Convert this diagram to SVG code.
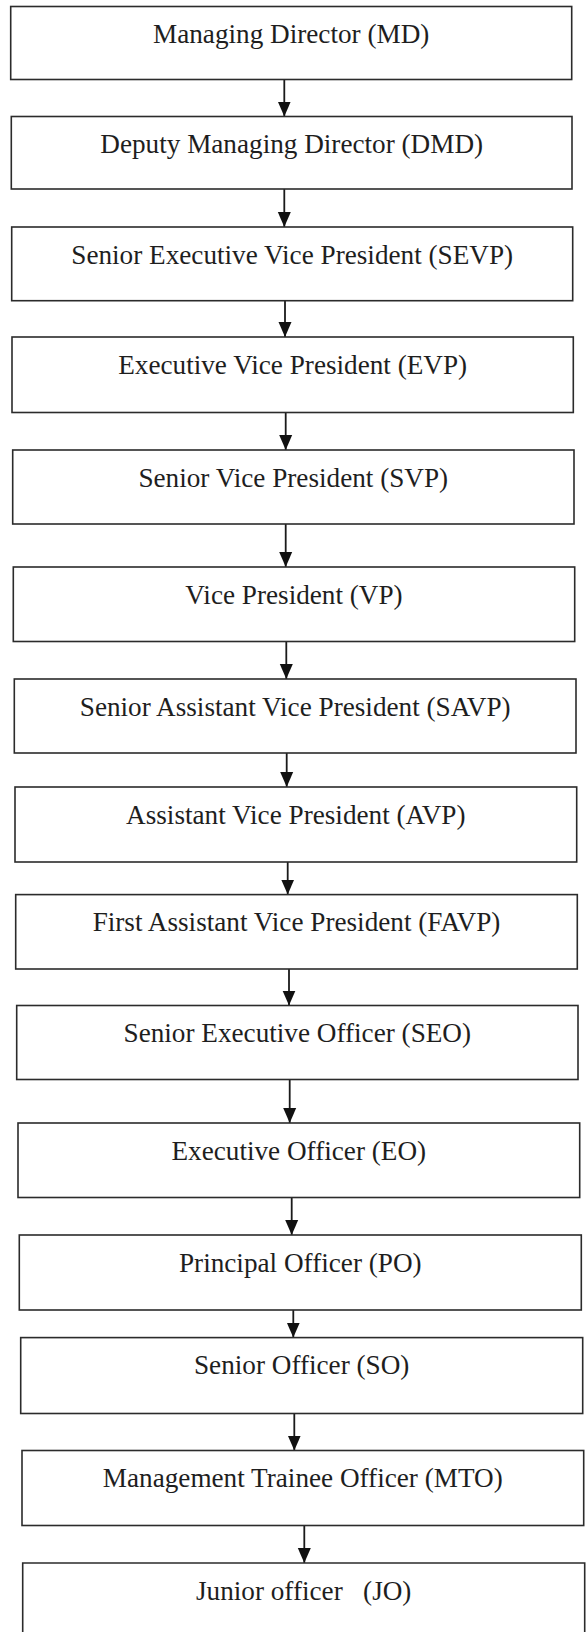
<svg xmlns="http://www.w3.org/2000/svg" width="586" height="1632" viewBox="0 0 586 1632">
<style>
.box{fill:#fff;stroke:#2b2b2b;stroke-width:1.6}
.lbl{font-family:"Liberation Serif","Times New Roman",serif;font-size:27.2px;fill:#1e1e1e;text-anchor:middle;white-space:pre}
.conn{stroke:#1a1a1a;stroke-width:1.8;fill:none}
</style>
<defs>
<marker id="ah" markerUnits="userSpaceOnUse" markerWidth="16" markerHeight="14" refX="15" refY="7" orient="auto" viewBox="0 0 16 14">
<polygon points="0,0.5 15,7 0,13.5" fill="#111"/>
</marker>
</defs>
<rect x="0" y="0" width="586" height="1632" fill="#fff"/>
<g id="connectors">
<line class="conn" x1="284.3" y1="79.5" x2="284.3" y2="116.5" marker-end="url(#ah)"/>
<line class="conn" x1="284.3" y1="189" x2="284.3" y2="227" marker-end="url(#ah)"/>
<line class="conn" x1="285" y1="300.7" x2="285" y2="337" marker-end="url(#ah)"/>
<line class="conn" x1="285.7" y1="412.5" x2="285.7" y2="450" marker-end="url(#ah)"/>
<line class="conn" x1="285.7" y1="524" x2="285.7" y2="567" marker-end="url(#ah)"/>
<line class="conn" x1="286.3" y1="641.5" x2="286.3" y2="679" marker-end="url(#ah)"/>
<line class="conn" x1="286.7" y1="753" x2="286.7" y2="787" marker-end="url(#ah)"/>
<line class="conn" x1="287.7" y1="862" x2="287.7" y2="894.6" marker-end="url(#ah)"/>
<line class="conn" x1="289" y1="969" x2="289" y2="1005.5" marker-end="url(#ah)"/>
<line class="conn" x1="289.7" y1="1079.5" x2="289.7" y2="1123" marker-end="url(#ah)"/>
<line class="conn" x1="291.7" y1="1197.5" x2="291.7" y2="1235" marker-end="url(#ah)"/>
<line class="conn" x1="293.3" y1="1283" x2="293.3" y2="1337.6" marker-end="url(#ah)"/>
<line class="conn" x1="294.3" y1="1413.5" x2="294.3" y2="1450.5" marker-end="url(#ah)"/>
<line class="conn" x1="304.3" y1="1525.5" x2="304.3" y2="1563" marker-end="url(#ah)"/>
</g>
<g id="md"><rect class="box" x="10.7" y="6.5" width="561" height="73"/><text class="lbl" x="291.2" y="43">Managing Director (MD)</text></g>
<g id="dmd"><rect class="box" x="11.3" y="116.5" width="560.7" height="72.5"/><text class="lbl" x="291.7" y="153">Deputy Managing Director (DMD)</text></g>
<g id="sevp"><rect class="box" x="11.7" y="227" width="561" height="73.7"/><text class="lbl" x="292.2" y="263.5">Senior Executive Vice President (SEVP)</text></g>
<g id="evp"><rect class="box" x="12" y="337" width="561.3" height="75.5"/><text class="lbl" x="292.7" y="373.5">Executive Vice President (EVP)</text></g>
<g id="svp"><rect class="box" x="12.7" y="450" width="561.3" height="74"/><text class="lbl" x="293.3" y="486.5">Senior Vice President (SVP)</text></g>
<g id="vp"><rect class="box" x="13.3" y="567" width="561.4" height="74.5"/><text class="lbl" x="294" y="603.5">Vice President (VP)</text></g>
<g id="savp"><rect class="box" x="14.3" y="679" width="561.7" height="74"/><text class="lbl" x="295.2" y="715.5">Senior Assistant Vice President (SAVP)</text></g>
<g id="avp"><rect class="box" x="15" y="787" width="561.7" height="75"/><text class="lbl" x="295.8" y="823.5">Assistant Vice President (AVP)</text></g>
<g id="favp"><rect class="box" x="15.7" y="894.6" width="561.6" height="74.4"/><text class="lbl" x="296.5" y="931">First Assistant Vice President (FAVP)</text></g>
<g id="seo"><rect class="box" x="16.7" y="1005.5" width="561.3" height="74"/><text class="lbl" x="297.3" y="1042">Senior Executive Officer (SEO)</text></g>
<g id="eo"><rect class="box" x="18" y="1123" width="561.7" height="74.5"/><text class="lbl" x="298.8" y="1159.5">Executive Officer (EO)</text></g>
<g id="po"><rect class="box" x="19.3" y="1235" width="562" height="75"/><text class="lbl" x="300.3" y="1271.5">Principal Officer (PO)</text></g>
<g id="so"><rect class="box" x="20.7" y="1337.6" width="562" height="75.9"/><text class="lbl" x="301.7" y="1374">Senior Officer (SO)</text></g>
<g id="mto"><rect class="box" x="22" y="1450.5" width="561.7" height="75"/><text class="lbl" x="302.8" y="1487">Management Trainee Officer (MTO)</text></g>
<g id="jo"><path class="box" d="M22.7,1640 V1563 H584.7 V1640" fill="none"/><text class="lbl" x="303.7" y="1599.5">Junior officer   (JO)</text></g>
</svg>
